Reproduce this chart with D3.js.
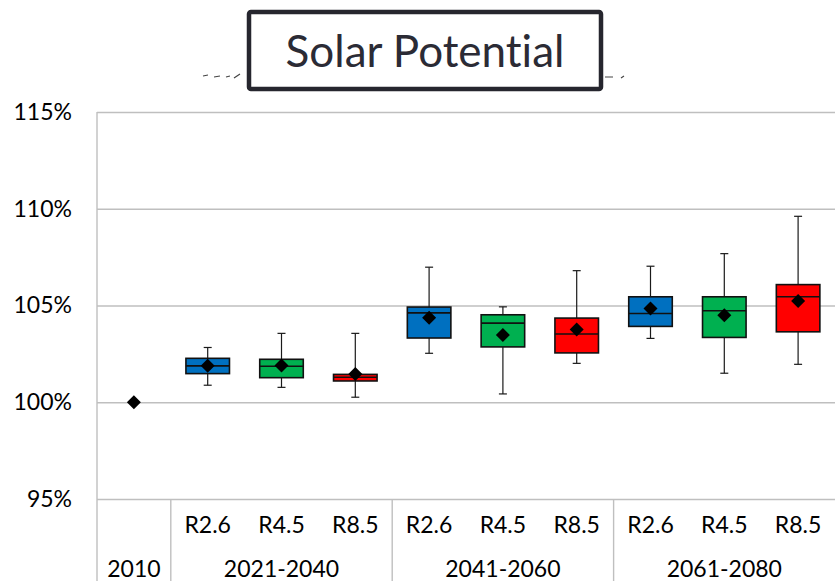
<!DOCTYPE html>
<html><head><meta charset="utf-8">
<script src="https://cdn.jsdelivr.net/npm/d3@7"></script>
<style>body{margin:0;background:#fff}svg{display:block}text{font-family:Lato,"Open Sans",sans-serif;font-variant-ligatures:none;font-feature-settings:"liga" 0}</style>
</head><body>
<svg id="c" width="835" height="581"></svg>
<script>
// ---- data ----
const categories = ["2010","R2.6","R4.5","R8.5","R2.6","R4.5","R8.5","R2.6","R4.5","R8.5"];
const groups = [
  {label:"2010", from:0, to:0},
  {label:"2021-2040", from:1, to:3},
  {label:"2041-2060", from:4, to:6},
  {label:"2061-2080", from:7, to:9}
];
const whiskerLow  = [null,100.88,100.77,100.26,102.53,100.43,102.01,103.30,101.50,101.96];
const q1          = [null,101.48,101.27,101.10,103.32,102.86,102.55,103.92,103.35,103.64];
const median      = [null,101.88,101.86,101.29,104.62,104.09,103.53,104.59,104.73,105.45];
const q3          = [null,102.27,102.22,101.44,104.92,104.52,104.35,105.45,105.45,106.08];
const whiskerHigh = [null,102.83,103.56,103.56,106.98,104.93,106.80,107.03,107.68,109.61];
const means       = [100.0,101.88,101.90,101.46,104.37,103.47,103.76,104.85,104.50,105.23];
const scenarioColors = {"R2.6":"#0070C0","R4.5":"#00B050","R8.5":"#FF0000"};
const yTicks = [95,100,105,110,115];
const title = "Solar Potential";

// ---- layout ----
const svg = d3.select("#c");
const pL = 97, pR = 835, pT = 112, pB = 499, H = 581;
const x = d3.scaleBand().domain(d3.range(categories.length)).range([pL, pR]).padding(0);
const y = d3.scaleLinear().domain([95,115]).range([pB, pT]);

// gridlines
svg.append("g").attr("transform",`translate(${pL},0)`)
  .call(d3.axisLeft(y).tickValues(yTicks).tickSize(-(pR-pL)).tickFormat(""))
  .call(g=>g.select(".domain").remove())
  .call(g=>g.selectAll("line").attr("stroke","#bfbfbf").attr("stroke-width",1.4));

// y labels
svg.append("g").attr("transform",`translate(${pL},0)`)
  .call(d3.axisLeft(y).tickValues(yTicks).tickSize(0).tickPadding(25).tickFormat(d=>d+"%"))
  .call(g=>g.select(".domain").remove())
  .call(g=>g.selectAll("text").attr("font-size",23).attr("fill","#000").attr("font-family","Lato"));

// axis lines
svg.append("line").attr("x1",pL).attr("x2",pL).attr("y1",pT).attr("y2",H)
  .attr("stroke","#bfbfbf").attr("stroke-width",1.4);
groups.slice(1).forEach(g=>{
  const gx = x(g.from);
  svg.append("line").attr("x1",gx).attr("x2",gx).attr("y1",pB).attr("y2",H)
    .attr("stroke","#bfbfbf").attr("stroke-width",1.4);
});

// category labels
const bw = x.bandwidth();
categories.forEach((c,i)=>{
  if(i===0) return;
  svg.append("text").attr("x",x(i)+bw/2).attr("y",533).attr("text-anchor","middle")
    .attr("font-size",23).attr("fill","#000").text(c);
});
groups.forEach(g=>{
  const cx = (x(g.from) + x(g.to) + bw)/2;
  svg.append("text").attr("x",cx).attr("y",577).attr("text-anchor","middle")
    .attr("font-size",23).attr("fill","#000").text(g.label);
});

// boxes
const boxW = bw*0.59, capW = 8;
categories.forEach((c,i)=>{
  if(q1[i]==null) return;
  const cx = x(i)+bw/2;
  const g = svg.append("g");
  g.append("line").attr("x1",cx).attr("x2",cx).attr("y1",y(whiskerHigh[i])).attr("y2",y(q3[i]))
    .attr("stroke","#1a1a1a").attr("stroke-width",1.2);
  g.append("line").attr("x1",cx).attr("x2",cx).attr("y1",y(q1[i])).attr("y2",y(whiskerLow[i]))
    .attr("stroke","#1a1a1a").attr("stroke-width",1.2);
  [whiskerHigh[i],whiskerLow[i]].forEach(v=>{
    g.append("line").attr("x1",cx-capW/2).attr("x2",cx+capW/2).attr("y1",y(v)).attr("y2",y(v))
      .attr("stroke","#1a1a1a").attr("stroke-width",1.2);
  });
  g.append("rect").attr("x",cx-boxW/2).attr("width",boxW).attr("y",y(q3[i])).attr("height",y(q1[i])-y(q3[i]))
    .attr("fill",scenarioColors[c]).attr("stroke","#111").attr("stroke-width",1.6);
  g.append("line").attr("x1",cx-boxW/2).attr("x2",cx+boxW/2).attr("y1",y(median[i])).attr("y2",y(median[i]))
    .attr("stroke","#111").attr("stroke-width",1.6);
});

// means (diamonds)
const ds = 7;
means.forEach((m,i)=>{
  const cx = x(i)+bw/2, cy = y(m);
  svg.append("path").attr("d",`M${cx},${cy-ds}L${cx+ds},${cy}L${cx},${cy+ds}L${cx-ds},${cy}Z`).attr("fill","#000");
});

// title
svg.append("path").attr("d","M203,76L208,75M214,77L220,76M226,77L230,76M234,78L240,74")
  .attr("stroke","#444").attr("stroke-width",1.2);
svg.append("path").attr("d","M605,77L613,77M621,78L624,76").attr("stroke","#444").attr("stroke-width",1.2);
svg.append("rect").attr("x",249).attr("y",12).attr("width",352).attr("height",77).attr("rx",2)
  .attr("fill","#fff").attr("stroke","#26262e").attr("stroke-width",4.5);
svg.append("text").attr("x",425).attr("y",67).attr("text-anchor","middle").attr("font-size",44)
  .attr("fill","#2b2b35").text(title);
</script>
</body></html>
